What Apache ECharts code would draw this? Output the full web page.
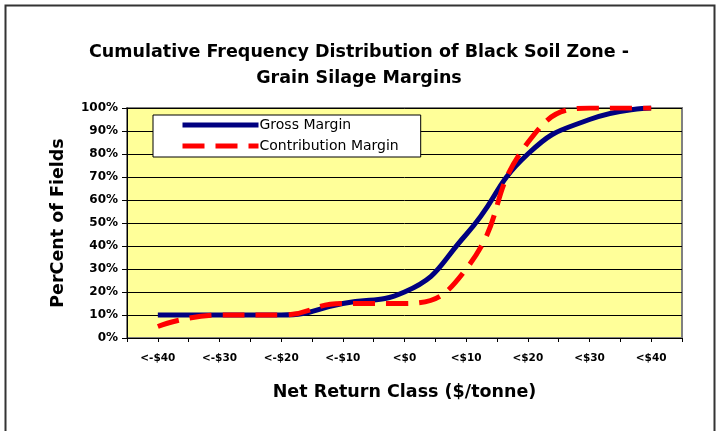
<!DOCTYPE html>
<html>
<head>
<meta charset="utf-8">
<script src="https://cdn.jsdelivr.net/npm/echarts@6/dist/echarts.min.js"></script>
<style>
html,body{margin:0;padding:0;background:#fff;}
#c{width:718px;height:431px;}
</style>
</head>
<body>
<div id="c"></div>
<script>
var categories = ['<-$40','<-$30','<-$20','<-$10','<$0','<$10','<$20','<$30','<$40'];
var grossMargin = [10, 10, 10, 15, 20, 45, 80, 95, 100];
var contributionMargin = [5, 10, 10, 15, 15, 30, 85, 100, 100];
var yTicks = [0, 10, 20, 30, 40, 50, 60, 70, 80, 90, 100];

var chart = echarts.init(document.getElementById('c'), null, {renderer: 'canvas'});
var FONT = '"DejaVu Sans", Arial, sans-serif';
chart.setOption({
  animation: false,
  backgroundColor: '#ffffff',
  title: {
    text: 'Cumulative Frequency Distribution of Black Soil Zone -\nGrain Silage Margins',
    left: 'center',
    top: 34,
    textStyle: {fontFamily: FONT, fontSize: 17.5, fontWeight: 'bold', color: '#000', lineHeight: 26}
  },
  graphic: [{
    type: 'rect', left: 3, top: 3, shape: {width: 709, height: 440},
    style: {fill: 'none', stroke: '#333', lineWidth: 2}, silent: true, z: 100
  }],
  legend: {
    left: 153, top: 115, orient: 'vertical',
    backgroundColor: '#fff', borderColor: '#000', borderWidth: 1,
    padding: [3, 22, 4, 27], itemGap: 7, itemWidth: 76, itemHeight: 14,
    itemStyle: {opacity: 0},
    lineStyle: {width: 5},
    textStyle: {fontFamily: FONT, fontSize: 14, color: '#000', padding: [0,0,0,-4]},
    data: ['Gross Margin', 'Contribution Margin']
  },
  grid: {
    left: 127, top: 108, right: 36, bottom: 93,
    show: true, backgroundColor: '#FFFF99', borderColor: '#808080', borderWidth: 2
  },
  xAxis: [{
    type: 'category', data: categories, position: 'bottom',
    name: 'Net Return Class ($/tonne)', nameLocation: 'middle', nameGap: 45,
    nameTextStyle: {fontFamily: FONT, fontSize: 17.5, fontWeight: 'bold', color: '#000'},
    axisLine: {lineStyle: {color: '#000', width: 1}},
    axisTick: {show: true, length: 4, lineStyle: {color: '#000'}},
    axisLabel: {fontFamily: FONT, fontSize: 10.5, fontWeight: 'bold', color: '#000', margin: 15, interval: 0}
  }, {
    type: 'category', data: categories, position: 'bottom', offset: 0,
    axisLine: {show: false},
    axisTick: {show: true, alignWithLabel: true, length: 4, lineStyle: {color: '#000'}},
    axisLabel: {show: false}
  }],
  yAxis: {
    type: 'value', min: 0, max: 100, interval: 10,
    name: 'PerCent of Fields', nameLocation: 'middle', nameGap: 60,
    nameTextStyle: {fontFamily: FONT, fontSize: 17.5, fontWeight: 'bold', color: '#000'},
    axisLine: {show: true, lineStyle: {color: '#000', width: 1}},
    axisTick: {show: true, length: 5, lineStyle: {color: '#000'}},
    axisLabel: {fontFamily: FONT, fontSize: 12, fontWeight: 'bold', color: '#000', margin: 9,
      formatter: function (v) { return v + '%'; }},
    splitLine: {show: true, lineStyle: {color: '#000', width: 1}}
  },
  series: [{
    name: 'Gross Margin', type: 'line', data: grossMargin, smooth: 0.5,
    symbol: 'none', lineStyle: {color: '#000080', width: 5}, itemStyle: {color: '#000080'}, z: 3
  }, {
    name: 'Contribution Margin', type: 'line', data: contributionMargin, smooth: 0.5,
    symbol: 'none', lineStyle: {color: '#FF0000', width: 5, type: [22, 11]}, itemStyle: {color: '#FF0000'}, z: 4
  }]
});
</script>
</body>
</html>
